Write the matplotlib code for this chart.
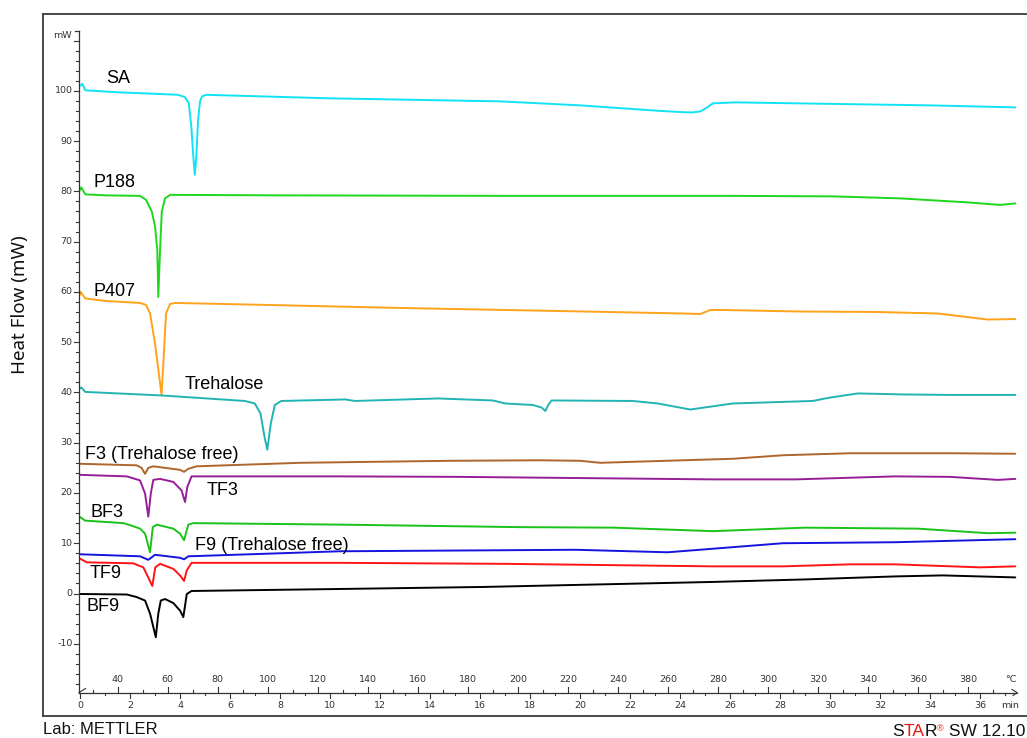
import matplotlib
matplotlib.use('Agg')
import matplotlib.pyplot as plt
from matplotlib.transforms import IdentityTransform

# ---------------- data (time in min, heat flow in mW) ----------------
sa_t = [0, 0.08, 0.2, 1.5, 3.0, 3.91, 4.18, 4.34, 4.44, 4.52, 4.58, 4.64, 4.71, 4.79, 4.87, 5.04,
        10, 16.8, 20, 23.2, 24.1, 24.5, 24.8, 25.05, 25.3, 26.2, 30.0, 34.0, 37.4]
sa_v = [101.0, 101.4, 100.1, 99.7, 99.4, 99.2, 98.74, 97.55, 92.9, 86.9, 83.3, 86.9, 94.2, 97.9, 98.9, 99.2,
        98.5, 97.9, 97.1, 96.0, 95.75, 95.7, 95.9, 96.6, 97.5, 97.7, 97.4, 97.1, 96.7]

p188_t = [0, 0.04, 0.2, 1.0, 2.39, 2.63, 2.86, 2.99, 3.08, 3.12, 3.19, 3.26, 3.39, 3.59, 8.0,
          16.8, 26.1, 30.1, 32.8, 35.5, 36.8, 37.4]
p188_v = [80.3, 80.8, 79.4, 79.2, 79.1, 78.3, 76.0, 73.0, 68.3, 59.0, 68.3, 76.0, 78.6, 79.3, 79.2,
          79.1, 79.1, 79.0, 78.6, 77.8, 77.3, 77.6]

p407_t = [0, 0.02, 0.19, 1.0, 2.39, 2.63, 2.79, 2.99, 3.25, 3.35, 3.43, 3.59, 3.8, 8.39, 12.8,
          19.1, 24.1, 24.8, 25.2, 25.7, 28.7, 31.9, 34.3, 36.3, 37.4]
p407_v = [59.5, 60.0, 58.7, 58.2, 57.8, 57.4, 55.7, 49.7, 39.5, 48.4, 55.7, 57.6, 57.8, 57.3, 56.8,
          56.2, 55.7, 55.6, 56.4, 56.4, 56.1, 56.0, 55.7, 54.5, 54.6]

treh_t = [0, 0.04, 0.2, 3.24, 6.58, 6.98, 7.21, 7.37, 7.48, 7.62, 7.78, 8.04, 10.6, 10.98, 14.3,
          16.5, 17.0, 18.1, 18.45, 18.6, 18.72, 18.85, 22.1, 23.1, 24.4, 26.1, 29.3, 29.9, 31.1,
          32.9, 34.8, 37.4]
treh_v = [40.8, 41.0, 40.1, 39.4, 38.3, 37.8, 35.8, 31.1, 28.6, 33.8, 37.5, 38.3, 38.6, 38.3, 38.8,
          38.4, 37.8, 37.5, 37.0, 36.3, 37.5, 38.4, 38.3, 37.8, 36.6, 37.8, 38.3, 38.9, 39.8,
          39.6, 39.5, 39.5]

f3_t = [0, 2.25, 2.45, 2.59, 2.72, 2.92, 3.99, 4.15, 4.32, 4.65, 8.8, 14.8, 18.4, 20.0, 20.8,
        24.1, 26.1, 28.1, 30.8, 34.8, 37.4]
f3_v = [25.8, 25.5, 25.0, 23.8, 25.0, 25.3, 24.6, 24.2, 24.8, 25.3, 26.0, 26.4, 26.5, 26.4, 26.0,
        26.5, 26.8, 27.5, 27.9, 27.9, 27.8]

tf3_t = [0, 1.86, 2.39, 2.59, 2.72, 2.82, 2.92, 3.19, 3.72, 4.05, 4.19, 4.28, 4.45, 10.4, 15.2,
         25.3, 28.6, 32.6, 34.8, 36.7, 37.4]
tf3_v = [23.6, 23.3, 22.5, 19.9, 15.3, 19.9, 22.6, 22.8, 22.2, 20.5, 18.2, 21.2, 23.3, 23.3, 23.2,
         22.7, 22.7, 23.3, 23.2, 22.6, 22.8]

bf3_t = [0, 0.19, 1.72, 2.05, 2.39, 2.59, 2.79, 2.9, 3.06, 3.72, 3.99, 4.15, 4.32, 4.52, 10.4,
         17.6, 21.3, 25.3, 29.0, 33.5, 36.3, 37.4]
bf3_v = [15.2, 14.5, 14.0, 13.5, 12.9, 11.9, 8.2, 13.2, 13.7, 12.9, 11.9, 10.6, 13.7, 14.0, 13.7,
         13.2, 13.1, 12.4, 13.1, 12.9, 12.0, 12.1]

f9_t = [0, 2.39, 2.72, 2.99, 3.99, 4.15, 4.32, 10.4, 19.8, 23.5, 28.1, 32.6, 37.4]
f9_v = [7.8, 7.4, 6.7, 7.7, 7.1, 6.8, 7.4, 8.4, 8.7, 8.2, 10.0, 10.2, 10.8]

tf9_t = [0, 0.26, 2.12, 2.52, 2.72, 2.88, 3.0, 3.19, 3.72, 3.99, 4.15, 4.26, 4.45, 10.4, 17.0,
         25.3, 28.1, 30.8, 32.6, 36.0, 37.4]
tf9_v = [6.9, 6.2, 6.0, 5.2, 3.2, 1.5, 5.2, 5.9, 4.9, 3.6, 2.5, 4.6, 6.1, 6.1, 5.9,
         5.4, 5.4, 5.8, 5.8, 5.2, 5.4]

bf9_t = [0, 1.86, 2.25, 2.59, 2.79, 3.02, 3.12, 3.22, 3.39, 3.72, 3.99, 4.12, 4.26, 4.45, 10.4,
         16.1, 25.3, 29.0, 32.6, 34.5, 37.4]
bf9_v = [-0.1, -0.2, -0.7, -1.4, -4.0, -8.7, -4.0, -1.4, -1.1, -1.9, -3.4, -4.7, -0.1, 0.5, 0.9,
         1.3, 2.3, 2.8, 3.4, 3.6, 3.2]

series_names = ["SA", "P188", "P407", "Trehalose", "F3 (Trehalose free)", "TF3", "BF3",
                "F9 (Trehalose free)", "TF9", "BF9"]
# label anchor (time, mW baseline)
label_t = [1.03, 0.51, 0.51, 4.18, 0.19, 5.06, 0.39, 4.59, 0.39, 0.26]
label_v = [101.6, 80.9, 59.2, 40.6, 26.7, 19.5, 15.2, 8.6, 3.1, -3.5]

y_ticks = [-10, 0, 10, 20, 30, 40, 50, 60, 70, 80, 90, 100]
time_ticks = list(range(0, 37, 2))
temp_ticks = list(range(40, 381, 20))

# ---------------- styling ----------------
colors = ['#12E2F6', '#1ED81E', '#FFA31A', '#22B3B3', '#B0652A', '#961E98', '#19C319',
          '#1414E0', '#FF1414', '#000000']
curves = [(sa_t, sa_v), (p188_t, p188_v), (p407_t, p407_v), (treh_t, treh_v), (f3_t, f3_v),
          (tf3_t, tf3_v), (bf3_t, bf3_v), (f9_t, f9_v), (tf9_t, tf9_v), (bf9_t, bf9_v)]

W, H = 1027, 738
X0, SX = 80.3, 25.0      # pixel of t=0, pixels per minute
Y0, SY = 593.5, 5.027    # pixel of 0 mW, pixels per mW

def tx(px):
    return (px - X0) / SX

def vy(py):
    return (Y0 - py) / SY

fig = plt.figure(figsize=(W / 100, H / 100), dpi=100)
fig.patch.set_facecolor('white')
ax = fig.add_axes([43 / W, (H - 716) / H, (W - 43) / W, (716 - 14) / H])
ax.set_xlim(tx(43), tx(W))
ax.set_ylim(vy(716), vy(14))
ax.set_xticks([])
ax.set_yticks([])
ax.spines['right'].set_visible(False)
for s in ['top', 'left', 'bottom']:
    ax.spines[s].set_color('#3c3c3c')
    ax.spines[s].set_linewidth(1.3)

for (t, v), c in zip(curves, colors):
    ax.plot(t, v, color=c, lw=1.4, solid_joinstyle='round', solid_capstyle='round')

lab_font = 'Liberation Sans'
for name, lt, lv in zip(series_names, label_t, label_v):
    ax.text(lt, lv, name, fontsize=13, family=lab_font, ha='left', va='baseline', color='black')

# ---------------- inner axes ----------------
axc = '#333333'
tick_font = dict(fontsize=6.8, family='DejaVu Sans', color='#333333')
y_top = vy(31)
x_axis_v = vy(692.5)
y_axis_t = tx(79)
ax.plot([y_axis_t, y_axis_t], [x_axis_v, y_top], color=axc, lw=0.9)
ax.plot([y_axis_t - 0.16, y_axis_t], [y_top, y_top], color=axc, lw=0.9)
for v in range(-18, 112, 2):
    ln = 0.2 if v % 10 == 0 else 0.11
    ax.plot([y_axis_t - ln, y_axis_t], [v, v], color=axc, lw=0.8)
for v in y_ticks:
    ax.text(tx(72.7), v, str(v), ha='right', va='center', **tick_font)
ax.text(tx(72.2), vy(35.5), 'mW', ha='right', va='center', **tick_font)

t_end = tx(1017)
ax.plot([y_axis_t, t_end], [x_axis_v, x_axis_v], color=axc, lw=0.9)
ax.plot([y_axis_t, tx(85.5)], [x_axis_v, vy(688.5)], color=axc, lw=0.8)
ax.plot([tx(1012), t_end, tx(1013)], [vy(689.5), x_axis_v, vy(695.5)], color=axc, lw=0.8)
for m in range(0, 38):
    ln = 1.0 if m % 2 == 0 else 0.55
    ax.plot([m, m], [x_axis_v, x_axis_v - ln], color=axc, lw=0.8)
for T in range(30, 391, 10):
    ln = 1.0 if T % 20 == 0 else 0.55
    tt = (T - 25) / 10
    ax.plot([tt, tt], [x_axis_v, x_axis_v + ln], color=axc, lw=0.8)
for m in time_ticks:
    ax.text(m, vy(706), str(m), ha='center', va='center', **tick_font)
for T in temp_ticks:
    ax.text((T - 25) / 10, vy(679), str(T), ha='center', va='center', **tick_font)
ax.text(tx(1011), vy(679), '°C', ha='center', va='center', **tick_font)
ax.text(tx(1010), vy(706), 'min', ha='center', va='center', **tick_font)

# ---------------- labels outside ----------------
fig.text(20 / W, 1 - 305 / H, 'Heat Flow (mW)', rotation=90, ha='center', va='center',
         fontsize=13.5, family='Noto Sans', color='#111111')
fig.text(43 / W, 1 - 730 / H, 'Lab: METTLER', ha='left', va='center', fontsize=12,
         family=lab_font, color='#111111')

renderer = fig.canvas.get_renderer()
pieces = [("S", '#111111', 12.5, 0), ("TA", '#ee1111', 12.5, 0), ("R", '#111111', 12.5, 0),
          ("®", '#ee1111', 6.5, 5), (" SW 12.10", '#111111', 12.5, 0)]
base_y = H - 736.5
arts = []
x = 0
for txt, col, fs, dy in pieces:
    a = fig.text(x, base_y + dy, txt, color=col, fontsize=fs, family=lab_font,
                 ha='left', va='baseline', transform=IdentityTransform())
    bb = a.get_window_extent(renderer)
    arts.append(a)
    x += bb.width
shift = 1025 - x
for a in arts:
    px, py = a.get_position()
    a.set_position((px + shift, py))

fig.savefig('out.png', dpi=100, facecolor='white')
